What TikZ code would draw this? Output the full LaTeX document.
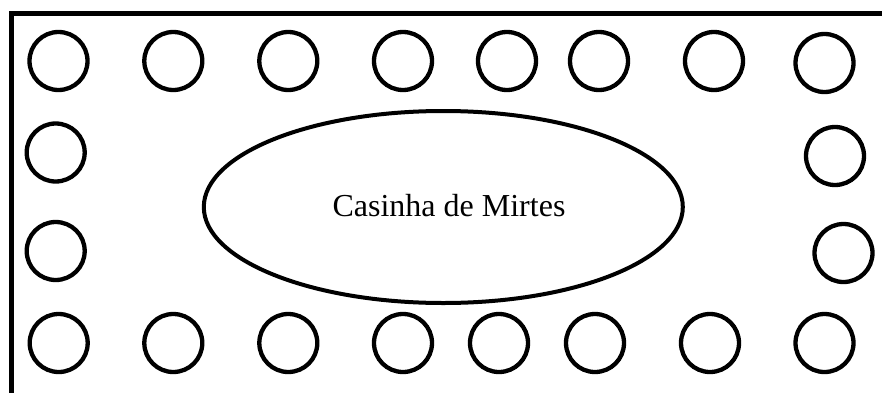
\documentclass[tikz,border=0pt]{standalone}
\usepackage{fontspec}
\setmainfont{Liberation Serif}
\usetikzlibrary{shapes.geometric}
\begin{document}
\begin{tikzpicture}[x=1pt,y=1pt,
  seat/.style={draw,circle,line width=4.3pt,minimum size=58pt,inner sep=0pt},
  house/.style={draw,ellipse,line width=4pt,minimum width=479pt,minimum height=192pt,inner sep=0pt},
  frame/.style={line width=5pt}]
\useasboundingbox (0,0) rectangle (882,392);
\fill[white] (0,0) rectangle (882,392);
% frame (only top and left edges visible)
\coordinate (fa) at (11,-20);
\coordinate (fb) at (11,378);
\coordinate (fc) at (900,378);
\draw[frame,line cap=rect] (fa) -- (fb) -- (fc);
% top row
\foreach \x [count=\i] in {58.5,173.3,288.3,403,507,599,714}
  \node[seat] (t\i) at (\x,331) {};
\node[seat] (t8) at (824.5,329) {};
% left column
\node[seat] (l1) at (55.7,239.5) {};
\node[seat] (l2) at (55.7,141) {};
% right column
\node[seat] (r1) at (835,236) {};
\node[seat] (r2) at (843.5,139) {};
% bottom row
\foreach \x [count=\i] in {58.7,173.3,288.3,403,499,595,710,824.5}
  \node[seat] (b\i) at (\x,49) {};
% house
\node[house] (casa) at (443.3,185) {};
\node[font=\fontsize{32}{38}\selectfont,inner sep=0pt] (lbl) at (449,186) {Casinha de Mirtes};
\end{tikzpicture}
\end{document}
